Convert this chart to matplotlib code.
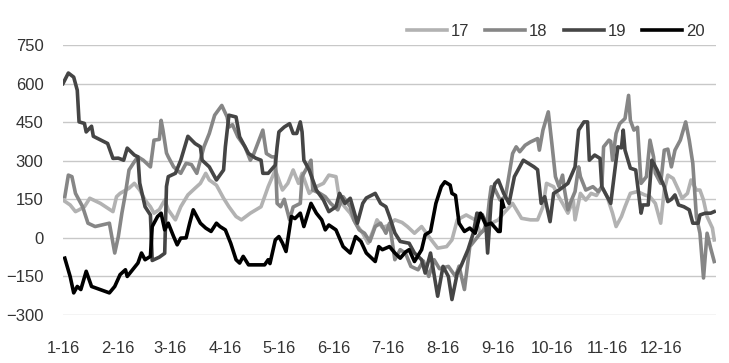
import matplotlib
matplotlib.use("Agg")
import matplotlib.pyplot as plt

# x = days after Jan 16, y = value
days_17 = [0, 4, 7, 9, 12, 15, 21, 28, 30, 32, 37, 40, 43, 46, 49, 51, 54, 57, 59, 63, 66, 70, 74, 77, 80,
           82, 86, 90, 93, 97, 100, 105, 111, 115, 119, 123, 126, 129, 132, 134, 138, 142, 146, 149, 153,
           155, 158, 161, 164, 168, 171, 174, 176, 179, 183, 186, 190, 193, 197, 201, 205, 210, 215, 218,
           221, 226, 231, 234, 238, 244, 247, 252, 257, 262, 266, 269, 271, 275, 277, 280, 283, 286, 287,
           290, 293, 296, 299, 302, 305, 308, 310, 313, 315, 318, 322, 326, 329, 332, 335, 337, 339, 342,
           345, 347, 350, 352, 355, 357, 359, 361, 364, 365]
vals_17 = [147, 128, 102, 109, 121, 154, 134, 102, 160, 173, 193, 212, 186, 147, 121, 96, 110, 147, 109, 70,
           121, 167, 193, 212, 251, 225, 205, 154, 121, 83, 70, 96, 121, 199, 264, 186, 212, 264, 212, 251,
           173, 199, 212, 244, 238, 147, 120, 96, 57, 18, -21, 31, 70, 40, 50, 70, 60, 44, 18, 44, 5, -40,
           -34, -8, 70, 89, 70, 18, 50, 70, 96, 134, 76, 70, 70, 121, 212, 199, 170, 134, 96, 147, 70, 173,
           147, 173, 165, 199, 160, 96, 44, 83, 121, 173, 180, 167, 160, 134, 57, 186, 244, 231, 186, 154,
           173, 225, 186, 186, 147, 83, 38, -8]

days_18 = [1, 3, 5, 7, 11, 14, 18, 26, 29, 31, 33, 35, 37, 40, 42, 45, 49, 51, 54, 55, 56, 58, 59, 62, 66,
           69, 72, 75, 79, 82, 85, 89, 92, 93, 95, 98, 102, 105, 107, 112, 114, 117, 119, 120, 122, 124,
           127, 129, 133, 134, 137, 139, 140, 144, 147, 150, 154, 157, 161, 163, 166, 169, 172, 175, 178,
           181, 183, 186, 189, 192, 195, 199, 202, 205, 208, 211, 216, 220, 222, 225, 228, 231, 234, 236,
           238, 239, 240, 242, 245, 248, 252, 254, 256, 259, 262, 266, 267, 269, 272, 274, 276, 278, 280,
           281, 283, 285, 287, 289, 290, 293, 297, 300, 302, 303, 306, 307, 308, 310, 312, 315, 317, 318,
           320, 322, 324, 327, 329, 331, 332, 335, 337, 339, 341, 343, 346, 349, 351, 353, 355, 357, 359,
           361, 363, 365]
vals_18 = [160, 244, 238, 173, 121, 57, 44, 57, -59, 5, 96, 173, 264, 296, 315, 302, 276, 380, 383, 457,
           420, 330, 315, 276, 251, 290, 285, 251, 354, 406, 477, 515, 470, 431, 440, 393, 354, 302, 328,
           419, 328, 315, 315, 134, 121, 150, 70, 120, 134, 238, 276, 302, 186, 173, 160, 134, 109, 160,
           121, 70, 31, 18, -14, 44, 57, 18, 57, -85, -46, -60, -111, -124, -90, -150, -85, -120, -111,
           -150, -110, -201, -34, -8, 18, 30, 83, 147, 199, 190, 147, 160, 328, 354, 335, 360, 373, 386,
           341, 419, 490, 367, 238, 200, 244, 190, 109, 147, 180, 276, 238, 186, 199, 180, 199, 354, 380,
           375, 302, 406, 444, 464, 554, 457, 419, 430, 212, 238, 380, 315, 251, 212, 341, 345, 276, 341,
           380, 451, 380, 290, 83, 18, -156, 18, -40, -92]

days_19 = [0, 3, 6, 8, 9, 12, 13, 16, 17, 25, 28, 31, 34, 36, 40, 42, 43, 46, 49, 50, 54, 57, 58, 59, 63,
           66, 70, 74, 77, 78, 82, 86, 90, 91, 93, 97, 99, 104, 108, 111, 112, 115, 119, 120, 121, 124,
           127, 129, 131, 133, 134, 135, 138, 142, 146, 149, 153, 155, 158, 161, 165, 168, 170, 175, 178,
           181, 183, 186, 189, 194, 197, 201, 203, 206, 210, 213, 216, 218, 221, 223, 227, 230, 232, 235,
           237, 238, 240, 242, 244, 247, 250, 253, 258, 264, 266, 268, 270, 273, 275, 278, 283, 287, 289,
           292, 294, 295, 298, 301, 302, 304, 306, 307, 310, 311, 313, 314, 315, 318, 321, 324, 325, 328,
           330, 333, 337, 339, 341, 343, 345, 348, 351, 353, 356, 357, 360, 363, 365]
vals_19 = [600, 641, 625, 574, 451, 445, 412, 434, 395, 367, 309, 310, 302, 349, 322, 315, 213, 121, 89,
           -88, -75, -60, 200, 238, 251, 302, 395, 367, 354, 302, 276, 225, 264, 354, 477, 470, 393, 328,
           310, 302, 251, 251, 283, 354, 412, 431, 444, 406, 406, 451, 412, 302, 264, 186, 147, 102, 121,
           173, 134, 154, 57, 134, 155, 173, 134, 121, 83, 19, -14, -21, -59, -85, -137, -59, -227, -111,
           -150, -240, -137, -111, -46, 19, 96, 90, 57, -59, 147, 210, 225, 173, 134, 238, 302, 276, 265,
           134, 160, 63, 173, 186, 212, 276, 419, 451, 451, 302, 322, 309, 199, 173, 147, 134, 302, 354,
           350, 419, 341, 271, 264, 96, 128, 128, 302, 264, 199, 141, 150, 167, 128, 121, 109, 57, 57, 89,
           96, 96, 102]

days_20 = [1, 4, 6, 8, 10, 13, 16, 26, 29, 32, 35, 36, 39, 42, 44, 46, 49, 50, 53, 55, 57, 59, 62, 64, 66,
           69, 71, 73, 76, 77, 80, 83, 86, 88, 91, 94, 97, 99, 101, 104, 113, 115, 116, 119, 121, 123, 125,
           128, 130, 133, 135, 139, 142, 145, 147, 149, 153, 157, 161, 164, 167, 170, 175, 177, 179, 183,
           186, 189, 192, 194, 197, 201, 203, 206, 209, 212, 214, 217, 218, 220, 222, 225, 228, 231, 234,
           237, 240, 244, 245, 246, 247]
vals_20 = [-79, -150, -214, -189, -201, -130, -189, -214, -189, -143, -124, -150, -124, -98, -59, -85, -72,
           44, 83, 96, 31, 57, 5, -27, -1, 0, 57, 109, 70, 57, 38, 25, 57, 44, 31, -21, -85, -98, -72,
           -105, -105, -85, -100, -8, 5, -20, -53, 83, 75, 96, 44, 134, 96, 70, 31, 50, 31, -34, -59, 5,
           -14, -59, -92, -34, -46, -34, -59, -79, -55, -46, -92, -46, 12, 25, 134, 199, 218, 205, 173,
           165, 57, 25, 38, 18, 96, 50, 57, 25, 25, 147, 121]

names = ["17", "18", "19", "20"]
colors = ["#b2b2b2", "#868686", "#454545", "#000000"]
tick_days = [0, 31, 60, 91, 121, 152, 182, 213, 244, 274, 305, 335]
tick_labels = ["1-16", "2-16", "3-16", "4-16", "5-16", "6-16", "7-16", "8-16", "9-16", "10-16", "11-16", "12-16"]
y_ticks = [-300, -150, 0, 150, 300, 450, 600, 750]

plt.rcParams['font.family'] = ['Liberation Sans', 'DejaVu Sans']

fig = plt.figure(figsize=(7.29, 3.63), dpi=100)
ax = fig.add_axes([63 / 729, 1 - 315 / 363, (716 - 63) / 729, 270 / 363])

series = [(days_17, vals_17), (days_18, vals_18), (days_19, vals_19), (days_20, vals_20)]
for (d, v), name, c in zip(series, names, colors):
    ax.plot(d, v, color=c, linewidth=2.6, label=name, solid_joinstyle='round')

ax.set_xlim(0, 366)
ax.set_ylim(-300, 750)
ax.set_yticks(y_ticks)
ax.set_xticks(tick_days)
ax.set_xticklabels(tick_labels)
ax.grid(axis='y', color='#c8c8c8', linewidth=1)
ax.set_axisbelow(True)
for s in ax.spines.values():
    s.set_visible(False)
ax.tick_params(axis='both', length=0, labelsize=12, colors='#333333')
ax.tick_params(axis='y', pad=14)
ax.tick_params(axis='x', pad=19)

fig.legend(loc='center right', bbox_to_anchor=(705 / 729, 1 - 31 / 363), ncol=4, frameon=False,
           fontsize=12, handlelength=2.4, handletextpad=0.25, columnspacing=0.95,
           borderpad=0, borderaxespad=0, labelcolor='#333333')

fig.savefig("out.png", dpi=100)
